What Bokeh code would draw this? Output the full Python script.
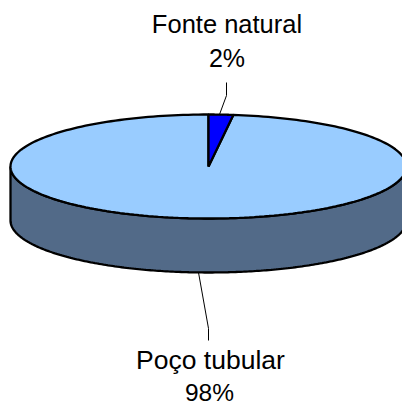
import numpy as np
from bokeh.plotting import figure
from bokeh.embed import file_html
from bokeh.resources import INLINE
from bokeh.core.properties import value

categories = ["Fonte natural", "Poço tubular"]
shares = [2, 98]
share_labels = ["2%", "98%"]

# layout (picture pixels)
CX, CY, RX, RY, DEPTH = 208.0, 166.0, 198.0, 52.0, 54.0
W, H = 402, 405

p = figure(width=W, height=H, output_backend="svg", toolbar_location=None,
           x_range=(0, W), y_range=(H, 0),
           min_border=0, outline_line_color=None, background_fill_color="white",
           border_fill_color="white")
p.axis.visible = False
p.grid.visible = False

def rim(a0, a1, n=240, dy=0.0):
    t = np.linspace(a0, a1, n)
    return CX + RX * np.sin(t), CY + dy - RY * np.cos(t)

# side wall (front half)
x1, y1 = rim(np.pi / 2, 3 * np.pi / 2)
x2, y2 = rim(3 * np.pi / 2, np.pi / 2, dy=DEPTH)
p.patch(np.r_[x1, x2], np.r_[y1, y2], fill_color="#526A88", line_color="black", line_width=2.3)

# slices, computed from the shares, clockwise from 12 o'clock
frac = np.cumsum([0] + shares) / sum(shares)
colors = ["#0000FF", "#99CCFF"]
for i in (1, 0):
    a0, a1 = 2 * np.pi * frac[i], 2 * np.pi * frac[i + 1]
    x, y = rim(a0, a1)
    p.patch(np.r_[CX, x], np.r_[CY, y], fill_color=colors[i], line_color="black", line_width=2.3)

# leader lines
p.line([226, 226, 219], [82, 95, 114], line_color="black", line_width=1)
p.line([198, 208, 208], [272, 328, 340], line_color="black", line_width=1)

# labels
font = value("Liberation Sans")
for txt, x, y, fs in [(categories[0], 226.5, 23, "25.5px"), (share_labels[0], 226.5, 57, "25px"),
                      (categories[1], 210, 359, "26.5px"), (share_labels[1], 209, 392, "24.5px")]:
    p.text([x], [y], text=[txt], text_font=font, text_font_size=fs, text_color="black",
           text_align="center", text_baseline="alphabetic")

open("out.html", "w").write(file_html(p, INLINE))
